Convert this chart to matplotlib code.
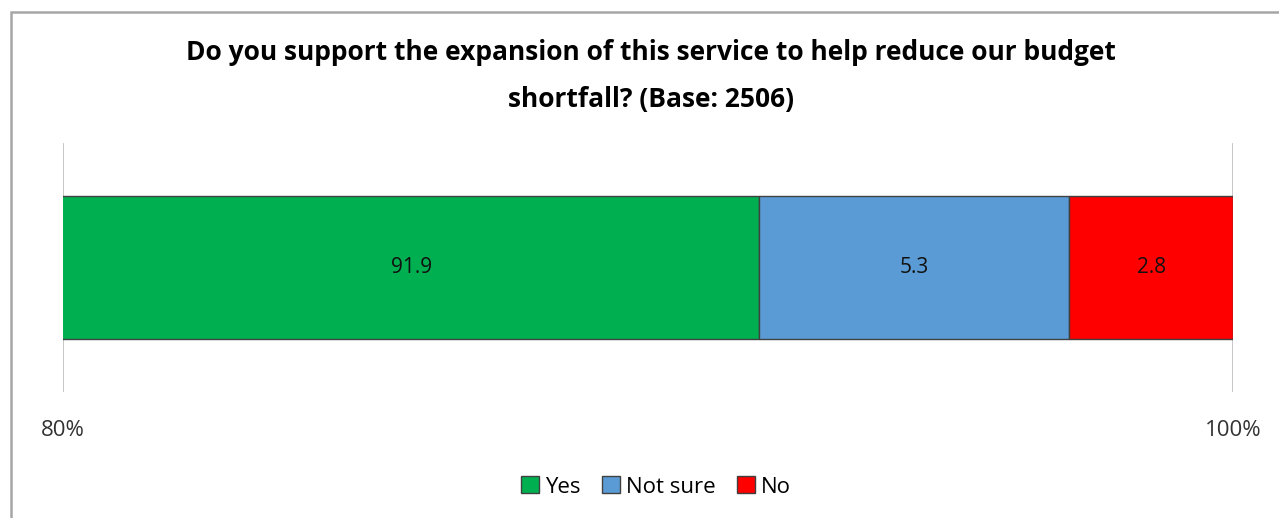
import matplotlib.pyplot as plt
from matplotlib.patches import Rectangle

# data
categories = ["Yes", "Not sure", "No"]
values = [91.9, 5.3, 2.8]
colors = ["#00B050", "#5B9BD5", "#FF0000"]
tick_values = [80, 100]
tick_labels = ["80%", "100%"]
title = "Do you support the expansion of this service to help reduce our budget\nshortfall? (Base: 2506)"

plt.rcParams["font.family"] = ["Open Sans", "DejaVu Sans"]

fig = plt.figure(figsize=(12.79, 5.18), dpi=100)
ax = fig.add_axes([63 / 1279, 1 - 392 / 518, (1233 - 63) / 1279, 249 / 518])

# outer chart border
fig.patches.append(Rectangle((11 / 1279, -0.1), 1.2, 1 - 12 / 518 + 0.1,
                             transform=fig.transFigure, fill=False,
                             edgecolor="#A6A6A6", linewidth=1.8))

left = 0
for cat, val, col in zip(categories, values, colors):
    ax.barh(0, val, left=left, height=0.578, color=col, edgecolor="#404040",
            linewidth=1.0, label=cat, zorder=3)
    mid = max(left, tick_values[0]) + (left + val - max(left, tick_values[0])) / 2
    ax.text(mid, 0, f"{val}", ha="center", va="center", fontsize=15,
            color="#111111", zorder=4)
    left += val

ax.set_xlim(tick_values[0], tick_values[1])
ax.set_ylim(-0.5, 0.5)
ax.set_xticks(tick_values)
ax.set_xticklabels(tick_labels, fontsize=16, color="#333333")
ax.tick_params(axis="x", length=0, pad=20)
ax.set_yticks([])
ax.grid(axis="x", color="#BFBFBF", linewidth=1.2, zorder=0)
for s in ax.spines.values():
    s.set_visible(False)

fig.text(651 / 1279, 1 - 76 / 518, title, ha="center", va="center",
         fontsize=19, fontweight="bold", color="#000000", linespacing=1.95)

fig.legend(loc="center", bbox_to_anchor=(656 / 1279, 1 - 487 / 518), ncol=3,
           frameon=False, fontsize=16, handlelength=0.8, handleheight=0.8,
           handletextpad=0.25, columnspacing=1.0)

fig.savefig("out.png", dpi=100)
